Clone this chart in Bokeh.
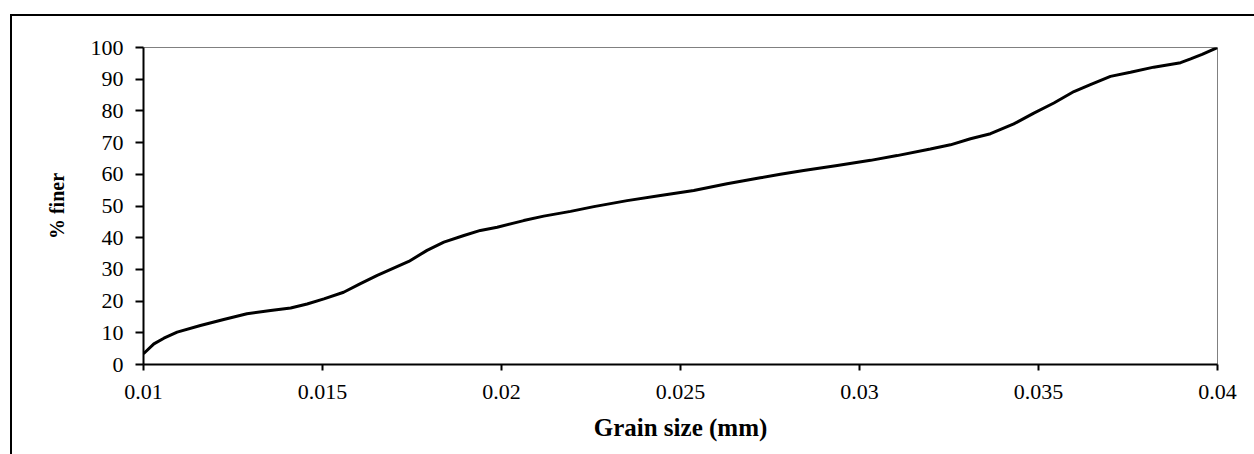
from bokeh.plotting import figure
from bokeh.models import FixedTicker, InlineStyleSheet
from bokeh.embed import file_html
from bokeh.resources import INLINE

grain_size = [0.0100, 0.01029, 0.01057, 0.01094, 0.01159, 0.01224, 0.01289, 0.01355,
              0.01411, 0.01457, 0.01504, 0.01559, 0.01606, 0.01653, 0.01741, 0.01792,
              0.01839, 0.01895, 0.01941, 0.01988, 0.02062, 0.02118, 0.02193, 0.02258,
              0.02351, 0.02444, 0.02537, 0.02630, 0.02723, 0.02779, 0.02844, 0.02938,
              0.03031, 0.03105, 0.03198, 0.03254, 0.03310, 0.03366, 0.03431, 0.03487,
              0.03543, 0.03599, 0.03645, 0.03701, 0.03757, 0.03822, 0.03897, 0.03925,
              0.03957, 0.0400]
percent_finer = [3.4, 6.5, 8.3, 10.2, 12.3, 14.2, 16.0, 17.0,
                 17.8, 19.1, 20.7, 22.8, 25.5, 28.1, 32.5, 36.0,
                 38.6, 40.7, 42.3, 43.3, 45.4, 46.8, 48.3, 49.8,
                 51.7, 53.3, 54.9, 57.0, 58.9, 60.0, 61.2, 62.8,
                 64.4, 65.9, 68.0, 69.3, 71.2, 72.8, 75.9, 79.3,
                 82.5, 86.1, 88.3, 90.9, 92.2, 93.8, 95.2, 96.4,
                 97.8, 100.0]

x_ticks = [0.01, 0.015, 0.02, 0.025, 0.03, 0.035, 0.04]
x_tick_labels = ["0.01", "0.015", "0.02", "0.025", "0.03", "0.035", "0.04"]
y_ticks = [0, 10, 20, 30, 40, 50, 60, 70, 80, 90, 100]

FONT = "Liberation Serif"

frame_css = InlineStyleSheet(css="""
:host { position: relative; overflow: hidden; }
:host::after {
  content: "";
  position: absolute;
  left: 10px; top: 14px; right: -10px; bottom: -10px;
  border: 2px solid black;
  pointer-events: none;
}
""")

p = figure(frame_width=1074, frame_height=317, output_backend="svg",
           toolbar_location=None, x_range=(0.01, 0.04), y_range=(0, 100),
           min_border_left=143, min_border_right=37, min_border_top=47,
           min_border_bottom=90, stylesheets=[frame_css])
p.background_fill_color = "white"
p.border_fill_color = "white"
p.outline_line_color = "#808080"
p.outline_line_width = 1
p.xgrid.visible = False
p.ygrid.visible = False

p.line(grain_size, percent_finer, line_color="black", line_width=3)

for ax in (p.xaxis[0], p.yaxis[0]):
    ax.axis_line_color = "black"
    ax.axis_line_width = 2
    ax.major_tick_line_color = "black"
    ax.major_tick_line_width = 2
    ax.minor_tick_line_color = None
    ax.major_tick_in = 0
    ax.major_label_text_font = FONT
    ax.major_label_text_color = "black"
    ax.major_label_text_font_size = "22px"
    ax.axis_label_text_font = FONT
    ax.axis_label_text_font_style = "bold"
    ax.axis_label_text_color = "black"

p.xaxis.ticker = FixedTicker(ticks=x_ticks)
p.xaxis.major_label_overrides = dict(zip(x_ticks, x_tick_labels))
p.xaxis.major_tick_out = 6
p.xaxis.major_label_standoff = 14
p.xaxis.axis_label = "Grain size (mm)"
p.xaxis.axis_label_text_font_size = "25px"
p.xaxis.axis_label_standoff = 12

p.yaxis.ticker = FixedTicker(ticks=y_ticks)
p.yaxis.major_tick_out = 8
p.yaxis.major_label_standoff = 12
p.yaxis.axis_label = "% finer"
p.yaxis.axis_label_text_font_size = "20px"
p.yaxis.axis_label_standoff = 20

open("out.html", "w").write(file_html(p, INLINE))
